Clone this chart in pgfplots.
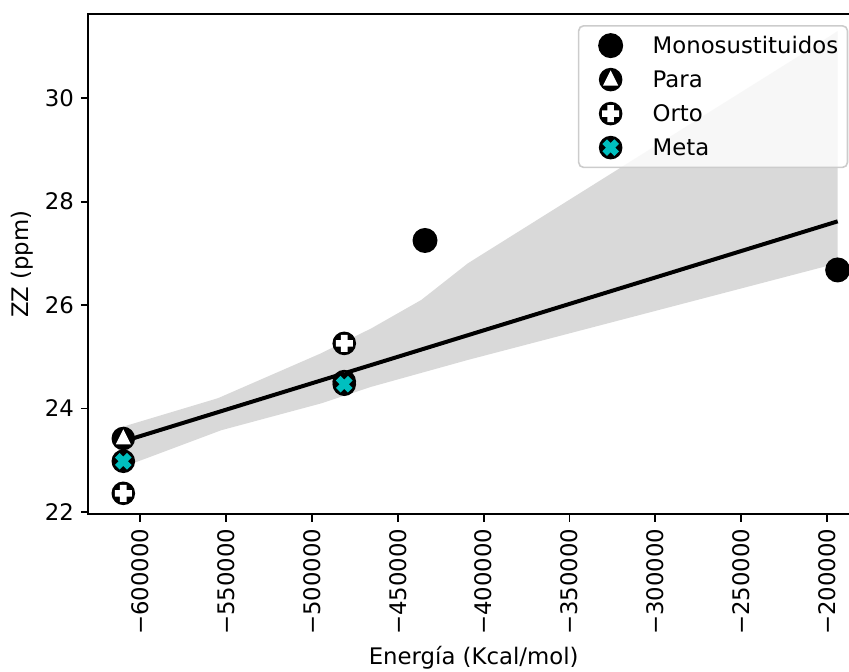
\documentclass[border=0pt]{standalone}
\usepackage{fontspec}
\setmainfont{DejaVu Sans}
\usepackage{pgfplots}
\pgfplotsset{compat=1.18}
\definecolor{bandgray}{HTML}{D9D9D9}
\definecolor{metacyan}{HTML}{00BFBF}
\definecolor{legedge}{HTML}{CCCCCC}
\newcommand{\fs}{\fontsize{11.4bp}{13.7bp}\selectfont}
\newcommand{\mpt}[2]{\pgfqpoint{#1\pgfplotmarksize}{#2\pgfplotmarksize}}
\pgfdeclareplotmark{monoM}{%
  \pgfsetcornersarced{\pgfpointorigin}%
  \pgfpathcircle{\pgfpointorigin}{\pgfplotmarksize}%
  \pgfsetfillcolor{black}\pgfusepathqfill}
\pgfdeclareplotmark{paraM}{%
  \pgfsetcornersarced{\pgfpointorigin}%
  \pgfpathcircle{\pgfpointorigin}{\pgfplotmarksize}%
  \pgfsetfillcolor{black}\pgfusepathqfill
  \pgfpathmoveto{\mpt{0}{0.78}}%
  \pgfpathlineto{\mpt{0.64}{-0.5}}%
  \pgfpathlineto{\mpt{-0.64}{-0.5}}%
  \pgfpathclose
  \pgfsetfillcolor{white}\pgfusepathqfill}
\newcommand{\pluspath}{%
  \pgfpathmoveto{\mpt{0.28}{0.72}}%
  \pgfpathlineto{\mpt{0.28}{0.28}}%
  \pgfpathlineto{\mpt{0.72}{0.28}}%
  \pgfpathlineto{\mpt{0.72}{-0.28}}%
  \pgfpathlineto{\mpt{0.28}{-0.28}}%
  \pgfpathlineto{\mpt{0.28}{-0.72}}%
  \pgfpathlineto{\mpt{-0.28}{-0.72}}%
  \pgfpathlineto{\mpt{-0.28}{-0.28}}%
  \pgfpathlineto{\mpt{-0.72}{-0.28}}%
  \pgfpathlineto{\mpt{-0.72}{0.28}}%
  \pgfpathlineto{\mpt{-0.28}{0.28}}%
  \pgfpathlineto{\mpt{-0.28}{0.72}}%
  \pgfpathclose}
\pgfdeclareplotmark{ortoM}{%
  \pgfsetcornersarced{\pgfpointorigin}%
  \pgfpathcircle{\pgfpointorigin}{\pgfplotmarksize}%
  \pgfsetfillcolor{black}\pgfusepathqfill
  \pluspath
  \pgfsetfillcolor{white}\pgfusepathqfill}
\pgfdeclareplotmark{metaM}{%
  \pgfsetcornersarced{\pgfpointorigin}%
  \pgfpathcircle{\pgfpointorigin}{\pgfplotmarksize}%
  \pgfsetfillcolor{black}\pgfusepathqfill
  \begin{pgfscope}\pgftransformrotate{45}%
  \pluspath
  \pgfsetfillcolor{metacyan}\pgfusepathqfill
  \end{pgfscope}}
\begin{document}
\begin{tikzpicture}
\begin{axis}[name=ax, scale only axis, width=385.35bp, height=250.15bp,
  xmin=-630290, xmax=-181370, ymin=21.954, ymax=31.63,
  scaled x ticks=false, scaled y ticks=false,
  tick pos=left, tick align=outside, major tick length=3.65bp,
  tick style={black, line width=0.9bp},
  axis line style={line width=0.9bp},
  xtick={-600000,-550000,-500000,-450000,-400000,-350000,-300000,-250000,-200000},
  xticklabels={−600000,−550000,−500000,−450000,−400000,−350000,−300000,−250000,−200000},
  xticklabel style={rotate=90, anchor=east, font=\fs},
  ytick={22,24,26,28,30},
  yticklabel style={font=\fs},
  /pgf/number format/assume math mode=true,
  xlabel={Energía (Kcal/mol)}, ylabel={ZZ (ppm)},
  xlabel style={font=\fs, at={(axis description cs:0.5,-0.2872)}, anchor=center},
  ylabel style={font=\fs, at={(axis description cs:-0.086,0.5)}, anchor=center},
  legend cell align=left,
  legend style={at={(0.9861,0.978)}, anchor=north east, draw=legedge, line width=0.8bp,
    rounded corners=2.5bp, fill=white, fill opacity=0.8, text opacity=1,
    inner xsep=4.65bp, inner ysep=1.4bp, column sep=9.65bp, row sep=0pt, font=\fs,
    nodes={inner sep=0pt, text height=12.65bp, text depth=4.35bp}},
  legend image code/.code={\path[draw=none, fill=none] (0bp,-8.5bp) rectangle (22.7bp,8.5bp);
    \begin{scope}[opacity=1]\draw[#1] plot coordinates {(11.35bp,0bp)};\end{scope}},
]
\addplot[fill=bandgray, draw=none, forget plot] coordinates {
  (-609900,22.87) (-552820,23.58) (-494570,24.10) (-465450,24.42) (-409120,24.94) (-193800,26.81)
  (-193800,31.30) (-213810,30.87) (-409120,26.81) (-436330,26.10) (-465450,25.55)
  (-494570,25.07) (-554740,24.20) (-609900,23.65)} -- cycle;
\addplot[black, line width=2bp, forget plot] coordinates {(-609900,23.365) (-193800,27.62)};
\addplot[only marks, mark=monoM, mark size=6.25bp] coordinates {(-434170,27.25) (-193800,26.68)};
\addlegendentry{Monosustituidos}
\addplot[only marks, mark=paraM, mark size=5.9bp] coordinates {(-609900,23.42) (-481200,24.52)};
\addlegendentry{Para}
\addplot[only marks, mark=ortoM, mark size=5.9bp] coordinates {(-609900,22.36) (-481200,25.26)};
\addlegendentry{Orto}
\addplot[only marks, mark=metaM, mark size=5.9bp] coordinates {(-609900,22.98) (-481200,24.47)};
\addlegendentry{Meta}
\end{axis}
\pgfresetboundingbox
\path[use as bounding box] ([xshift=-44.15bp,yshift=-78.85bp]ax.south west) rectangle ([xshift=-5bp,yshift=7bp]ax.north east);
\end{tikzpicture}
\end{document}
